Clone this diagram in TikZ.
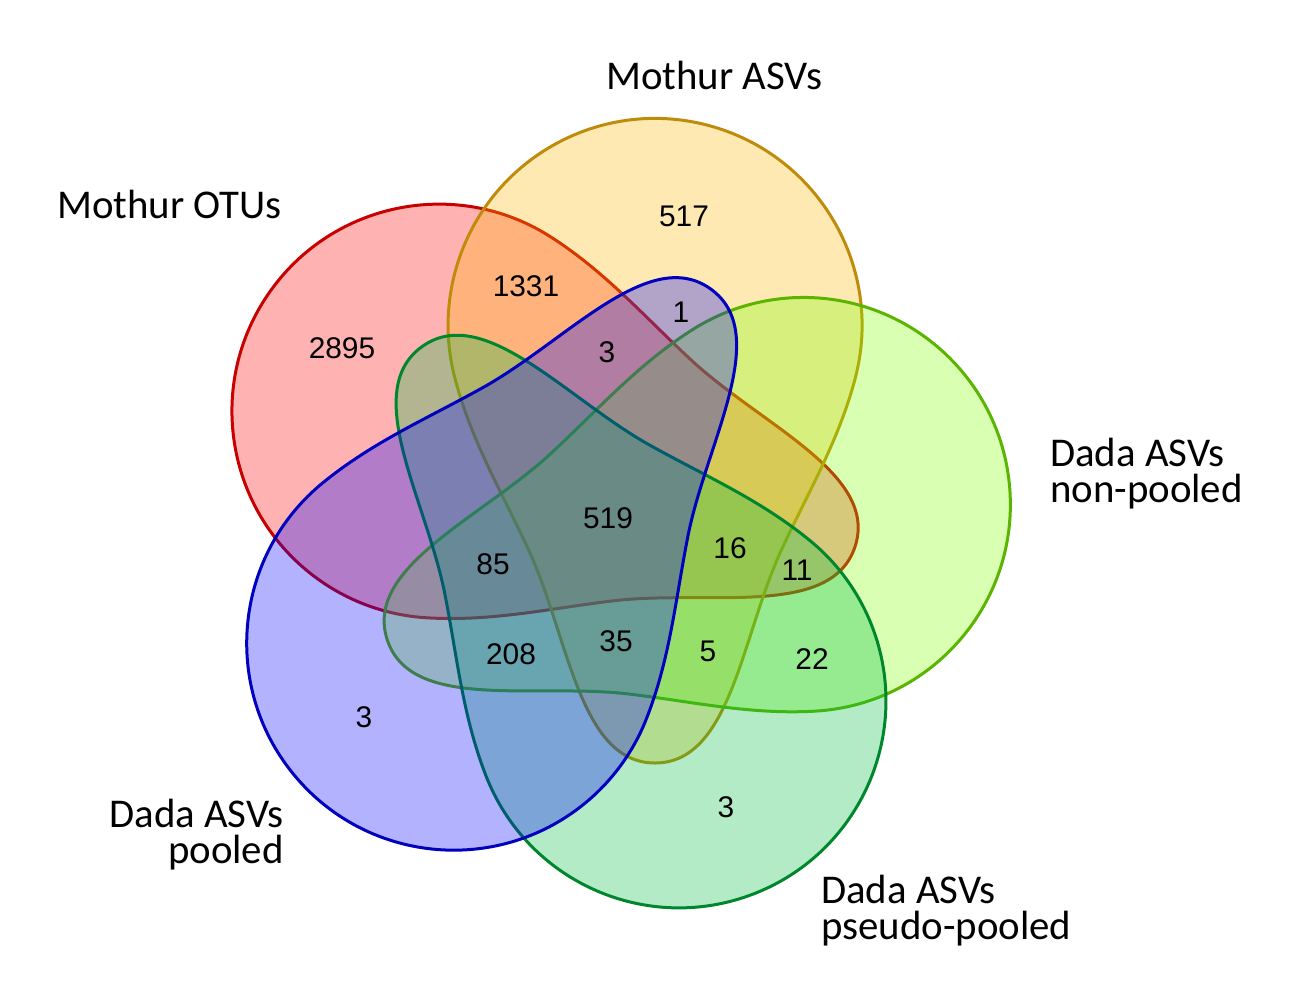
\documentclass[tikz,border=0pt]{standalone}
\usepackage{fontspec}
\setmainfont{Liberation Sans}
\newfontfamily\labelfont{Carlito}
\usepackage{tikz}

\definecolor{otufill}{RGB}{255,0,0}
\definecolor{otuline}{RGB}{200,0,0}
\definecolor{asvfill}{RGB}{255,182,0}
\definecolor{asvline}{RGB}{190,140,10}
\definecolor{nonfill}{RGB}{125,255,0}
\definecolor{nonline}{RGB}{90,180,0}
\definecolor{pseudofill}{RGB}{0,190,65}
\definecolor{pseudoline}{RGB}{0,135,45}
\definecolor{poolfill}{RGB}{0,0,255}
\definecolor{poolline}{RGB}{0,0,190}

\tikzset{
  vset/.style = {line width=3bp, fill opacity=0.3},
  count/.style = {font=\fontsize{30}{36}\selectfont, inner sep=0pt},
  setname/.style = {font=\labelfont\fontsize{41}{36}\selectfont, inner sep=0pt, align=left},
}

\begin{document}
\begin{tikzpicture}[x=1bp, y=-1bp]
  \useasboundingbox (0,0) rectangle (1302,1007);
  \coordinate (C) at (606,517);

  % one lobe with its tail, turned round C for each set
  \foreach \ang/\fillcol/\linecol in {72/otufill/otuline, 0/asvfill/asvline,
      -72/nonfill/nonline, -144/pseudofill/pseudoline, 144/poolfill/poolline}{
    \draw[vset, fill=\fillcol, draw=\linecol, rotate around={\ang:(C)}]
      (855,379) arc[start angle=15, end angle=-195, radius=207]
      .. controls (472,443) and (503,494) .. (530,553)
      .. controls (569,640) and (580,763) .. (655,763)
      .. controls (730,763) and (741,640) .. (780,553)
      .. controls (807,494) and (838,443) .. cycle;
  }

  % set names
  \node[setname, anchor=base west] (otu) at (57,218) {Mothur OTUs};
  \node[setname, anchor=base west] (asv) at (606,89) {Mothur ASVs};
  \node[setname, anchor=base west] (non) at (1050,502) {Dada ASVs\\non-pooled};
  \node[setname, anchor=base east, align=right] (pool) at (284,863) {Dada ASVs\\pooled};
  \node[setname, anchor=base west] (pseudo) at (821,939) {Dada ASVs\\pseudo-pooled};

  % counts
  \node[count] (n517) at (684,216) {517};
  \node[count] (n1331) at (526,286) {1331};
  \node[count] (n2895) at (342,348) {2895};
  \node[count] (n1) at (681,312) {1};
  \node[count] (n3a) at (607,352) {3};
  \node[count] (n519) at (608,518) {519};
  \node[count] (n85) at (493,564) {85};
  \node[count] (n16) at (730,548) {16};
  \node[count] (n11) at (797,570) {11};
  \node[count] (n208) at (511,654) {208};
  \node[count] (n35) at (616,641) {35};
  \node[count] (n5) at (708,651) {5};
  \node[count] (n22) at (812,659) {22};
  \node[count] (n3b) at (364,717) {3};
  \node[count] (n3c) at (726,807) {3};
\end{tikzpicture}
\end{document}
